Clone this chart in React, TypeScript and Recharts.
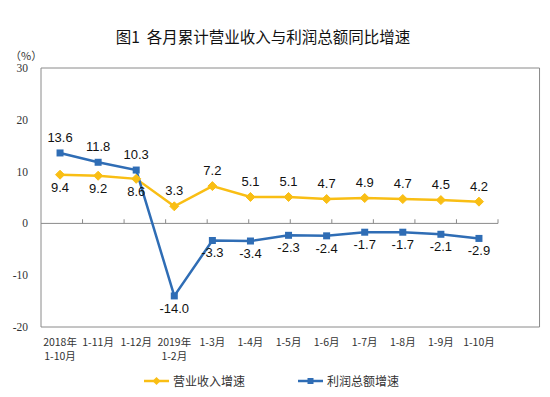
import React from 'react';
import * as Recharts from 'recharts';

const { LineChart, Line, XAxis, YAxis, ReferenceLine, ReferenceArea, LabelList } = Recharts as any;

const categories = ['2018年\n1-10月', '1-11月', '1-12月', '2019年\n1-2月', '1-3月', '1-4月', '1-5月', '1-6月', '1-7月', '1-8月', '1-9月', '1-10月'];
const revenueGrowth = [9.4, 9.2, 8.6, 3.3, 7.2, 5.1, 5.1, 4.7, 4.9, 4.7, 4.5, 4.2];
const profitGrowth = [13.6, 11.8, 10.3, -14.0, -3.3, -3.4, -2.3, -2.4, -1.7, -1.7, -2.1, -2.9];
const yTicks = [-20, -10, 0, 10, 20, 30];
const seriesNames = ['营业收入增速', '利润总额增速'];
const titleText = '图1  各月累计营业收入与利润总额同比增速';
const unitText = '（%）';

const YELLOW = '#F9BE14';
const BLUE = '#2F6DB5';
const GREY = '#8A8A8A';

const data = categories.map((c, i) => ({ cat: c, revenue: revenueGrowth[i], profit: profitGrowth[i] }));
const boundaries = categories.slice(1).map((_, i) => i + 1);

const Diamond = (props: any) => {
  const { cx, cy } = props;
  if (cx == null || cy == null) return null;
  const r = 4.5;
  return <path d={`M${cx},${cy - r}L${cx + r},${cy}L${cx},${cy + r}L${cx - r},${cy}Z`} fill={YELLOW} stroke={YELLOW} />;
};

const Square = (props: any) => {
  const { cx, cy } = props;
  if (cx == null || cy == null) return null;
  const r = 3.5;
  return <rect x={cx - r} y={cy - r} width={2 * r} height={2 * r} fill={BLUE} />;
};

const makeLabel = (aboveIf: (i: number) => boolean) => (props: any) => {
  const { x, y, value, index } = props;
  const above = aboveIf(index);
  return (
    <text x={x} y={above ? y - 11 : y + 17} textAnchor="middle" fontSize={13} fill="#111" fontFamily="Arial, 'Liberation Sans', sans-serif">
      {Number(value).toFixed(1)}
    </text>
  );
};

const XTick = (props: any) => {
  const { x, y, payload } = props;
  const lines = String(payload.value).split('\n');
  return (
    <text x={x} y={y} textAnchor="middle" fontSize={10.5} fill="#333" fontFamily="'Noto Sans CJK SC', sans-serif">
      {lines.map((l, i) => (
        <tspan key={i} x={x} dy={i === 0 ? 19 : 13.5}>{l}</tspan>
      ))}
    </text>
  );
};

const LegendItem = ({ color, shape, label, left }: any) => (
  <div style={{ position: 'absolute', left, top: 373, display: 'flex', alignItems: 'center', height: 16 }}>
    <svg width={25} height={10} style={{ display: 'block' }}>
      <line x1={0} y1={5} x2={25} y2={5} stroke={color} strokeWidth={2.5} />
      {shape === 'diamond' ? (
        <path d="M12.5,1L16.5,5L12.5,9L8.5,5Z" fill={color} />
      ) : (
        <rect x={9.5} y={2} width={6} height={6} fill={color} />
      )}
    </svg>
    <span style={{ marginLeft: 4, fontSize: 12, color: '#333', fontFamily: "'Noto Sans CJK SC', sans-serif", lineHeight: '16px' }}>{label}</span>
  </div>
);

export default function App() {
  return (
    <div style={{ position: 'absolute', left: 0, top: 0, width: 550, height: 397, background: '#fff' }}>
      <div style={{ position: 'absolute', left: 0, top: 26, width: 526, textAlign: 'center', fontSize: 15.5, color: '#111', fontFamily: "'Noto Sans CJK SC', sans-serif", lineHeight: '20px', whiteSpace: 'pre' }}>
        {titleText}
      </div>
      <div style={{ position: 'absolute', left: 10, top: 48, fontSize: 11, color: '#333', fontFamily: "'Noto Sans CJK SC', sans-serif", lineHeight: '14px' }}>
        {unitText}
      </div>
      <LineChart width={550} height={397} data={data} margin={{ top: 68, right: 52, left: 11, bottom: 30 }}>
        <XAxis dataKey="cat" scale="band" axisLine={false} tickLine={false} tickSize={0} tickMargin={0} height={40} interval={0} tick={<XTick />} />
        <XAxis xAxisId="num" type="number" domain={[0, 12]} hide />
        <YAxis domain={[-20, 30]} ticks={yTicks} width={30} axisLine={false} tickLine={false} tickSize={0} tickMargin={13} interval={0}
          tick={{ fontSize: 11.5, fill: '#333', fontFamily: "'Liberation Serif', serif" }} />
        <ReferenceArea xAxisId="num" x1={0} x2={12} y1={-20} y2={30} fill="none" stroke={GREY} strokeWidth={1} ifOverflow="visible" />
        <ReferenceLine y={0} stroke={GREY} strokeWidth={1} />
        {boundaries.map((b) => (
          <ReferenceLine key={b} xAxisId="num" segment={[{ x: b, y: 0 }, { x: b, y: 0.8 }]} stroke={GREY} strokeWidth={1} ifOverflow="visible" />
        ))}
        <Line dataKey="revenue" stroke={YELLOW} strokeWidth={2.5} dot={<Diamond />} activeDot={false} isAnimationActive={false}>
          <LabelList dataKey="revenue" content={makeLabel((i) => i >= 3)} />
        </Line>
        <Line dataKey="profit" stroke={BLUE} strokeWidth={2.5} dot={<Square />} activeDot={false} isAnimationActive={false}>
          <LabelList dataKey="profit" content={makeLabel((i) => i < 3)} />
        </Line>
      </LineChart>
      <LegendItem color={YELLOW} shape="diamond" label={seriesNames[0]} left={144} />
      <LegendItem color={BLUE} shape="square" label={seriesNames[1]} left={298} />
    </div>
  );
}
